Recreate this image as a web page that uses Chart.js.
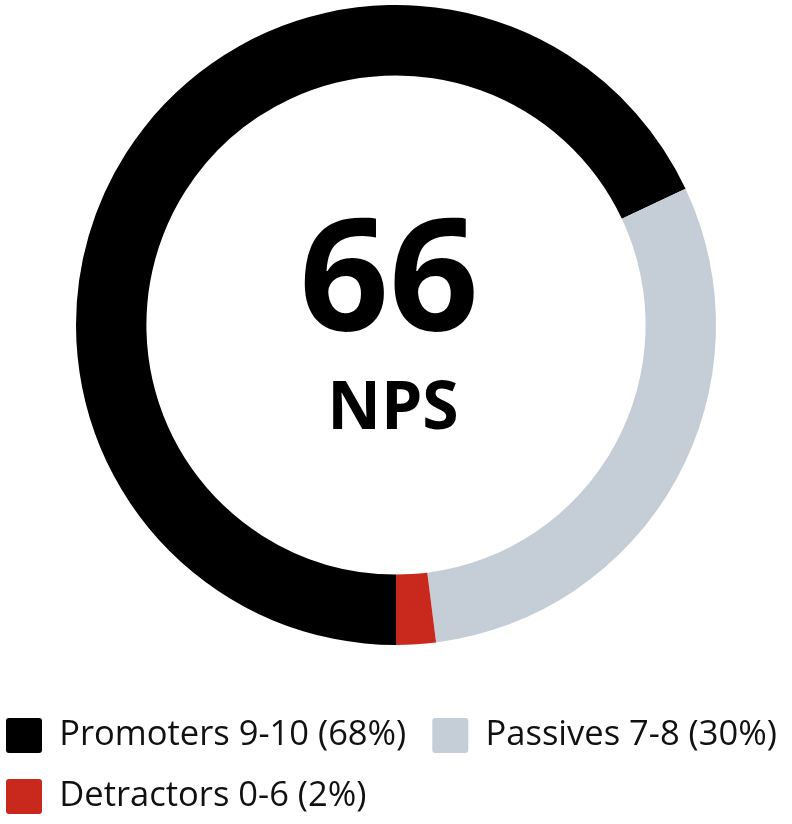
<!DOCTYPE html>
<html>
<head>
<meta charset="utf-8">
<script src="https://cdn.jsdelivr.net/npm/chart.js@4.4.1/dist/chart.umd.min.js"></script>
<style>
  html, body { margin: 0; padding: 0; background: #fff; overflow: hidden; }
  #wrap { width: 792px; height: 824px; position: relative; overflow: hidden; }
  #box { position: absolute; left: 0; top: -42px; width: 792px; height: 866px; }
</style>
</head>
<body>
<div id="wrap"><div id="box"><canvas id="npsChart"></canvas></div></div>
<script>
const labels = ['Promoters 9-10 (68%)', 'Passives 7-8 (30%)', 'Detractors 0-6 (2%)'];
const shares = [68, 30, 2];
const colors = ['#000000', '#c5cdd7', '#c9291d'];
const npsScore = '66';
const npsLabel = 'NPS';

// writes the score in the hole of the ring
const centerText = {
  id: 'centerText',
  afterDraw(chart) {
    const { ctx } = chart;
    const arc = chart.getDatasetMeta(0).data[0];
    if (!arc) return;
    ctx.save();
    ctx.fillStyle = '#000';
    ctx.textAlign = 'center';
    ctx.textBaseline = 'alphabetic';
    ctx.font = 'bold 157px "Open Sans"';
    ctx.fillText(npsScore, arc.x - 7, arc.y + 5);
    ctx.font = 'bold 66px "Open Sans"';
    ctx.fillText(npsLabel, arc.x - 3, arc.y + 104);
    ctx.restore();
  }
};

new Chart(document.getElementById('npsChart'), {
  type: 'doughnut',
  data: {
    labels: labels,
    datasets: [{
      data: shares,
      backgroundColor: colors,
      borderWidth: 0,
      radius: 320,
      cutout: '78%'
    }]
  },
  options: {
    responsive: true,
    maintainAspectRatio: false,
    animation: false,
    rotation: 180,
    layout: { padding: { top: 0, left: -20, right: -22, bottom: 0 } },
    plugins: {
      tooltip: { enabled: false },
      legend: {
        position: 'bottom',
        align: 'start',
        labels: {
          boxWidth: 36,
          boxHeight: 35,
          padding: 26,
          color: '#111',
          useBorderRadius: true,
          borderRadius: 3,
          font: { family: '"Open Sans"', size: 34.5 }
        }
      }
    }
  },
  plugins: [centerText]
});
</script>
</body>
</html>
